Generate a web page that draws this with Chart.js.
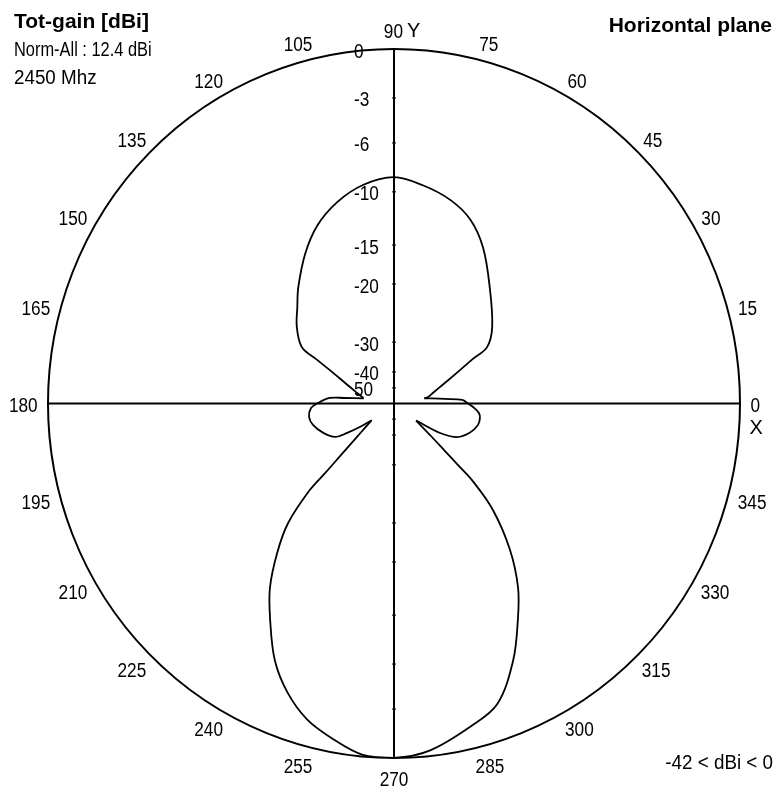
<!DOCTYPE html>
<html>
<head>
<meta charset="utf-8">
<script src="https://cdn.jsdelivr.net/npm/chart.js@4.4.0/dist/chart.umd.min.js"></script>
<style>
  html, body { margin: 0; padding: 0; background: #fff; }
  #wrap { width: 776px; height: 794px; }
</style>
</head>
<body>
<div id="wrap"><canvas id="polar" width="776" height="794"></canvas></div>
<script>
// azimuth in degrees (0 = X, counter-clockwise)
const angles = [0, 2.9, 5, 7.5, 9.5, 10.4, 15.7, 20.6, 25.7, 28.8, 30.6, 37.3, 49.9, 59.7, 67, 74.2, 82.3,
  90, 98.3, 106.2, 113.8, 121.2, 130.1, 135.8, 142.4, 149.1, 151, 153.6, 158.5, 163.6, 168.8, 170.5, 173.7, 175.2,
  180, 183, 188.8, 194.5, 202.1, 209, 211.5, 214, 216.2, 219, 221.5, 223.5, 224.6, 225.1, 227.8, 231.3, 235.4,
  239.6, 244.6, 249.3, 254.3, 259.5, 264.8, 270, 276.1, 283.6, 289.4, 295.4, 300.4, 304.6, 309.1, 313.6, 316.2,
  316.8, 317.7, 319.3, 323, 328, 332.6, 339.3, 346, 350.6, 353.8, 357.5, 360];
// normalised total gain, dB
const gain = [-27.5, -28.5, -33, -37.5, -40, -38.7, -36.3, -32.7, -28.1, -24.8, -21.5, -19.1, -15.8, -12.9, -11.1, -10.0, -9.3,
  -8.8, -9.25, -10.2, -11.6, -13.4, -15.8, -17.6, -19.2, -21.6, -25.0, -28.4, -33.2, -37.0, -39.4, -40, -33.7, -29.2,
  -27, -25.9, -25.4, -25.8, -27.1, -28.7, -31.7, -36.6, -42, -38, -33.4, -27.7, -23.6, -19.6, -14.7, -11.9, -9.0,
  -6.8, -4.4, -2.8, -1.6, -0.8, -0.1, 0, -0.35, -1.35, -2.2, -4.4, -6.8, -9.0, -12.2, -16.5, -21.5,
  -25.0, -28.4, -33.6, -42, -31.9, -28.0, -26.3, -25.3, -25.2, -25.5, -26.6, -27.5];
// the four nulls split the trace into lobes
const nullAngles = [9.5, 170.5, 216.2, 323];

const angleLabels = [0, 15, 30, 45, 60, 75, 90, 105, 120, 135, 150, 165, 180, 195, 210, 225, 240, 255, 270, 285, 300, 315, 330, 345];
const radialTicks = [0, -3, -6, -10, -15, -20, -30, -40, -50];
const radialLabels = ["0", "-3", "-6", "-10", "-15", "-20", "-30", "-40", "50"];
// radial scale of the plot: fraction of the outer ring for each tick
const radialStops = [1, 0.862, 0.735, 0.597, 0.447, 0.337, 0.173, 0.089, 0.044];

const FONT = '"Liberation Sans", Arial, sans-serif';
const SQUEEZE = 0.86;

function toRadius(db) {
  if (db >= radialTicks[0]) return 1;
  for (let i = 1; i < radialTicks.length; i++) {
    if (db >= radialTicks[i]) {
      const t = (radialTicks[i - 1] - db) / (radialTicks[i - 1] - radialTicks[i]);
      return radialStops[i - 1] + t * (radialStops[i] - radialStops[i - 1]);
    }
  }
  return radialStops[radialStops.length - 1];
}

const points = angles.map((a, i) => {
  const r = toRadius(gain[i]);
  const t = a * Math.PI / 180;
  return { x: r * Math.cos(t), y: r * Math.sin(t) };
});

// one dataset per lobe so the smoothing keeps the nulls sharp
const cuts = nullAngles.map(a => angles.indexOf(a));
const lobes = [
  points.slice(cuts[0], cuts[1] + 1),
  points.slice(cuts[1], cuts[2] + 1),
  points.slice(cuts[2], cuts[3] + 1),
  points.slice(cuts[3]).concat(points.slice(1, cuts[0] + 1))
];

function squeezed(ctx, txt, x, y, align, sx) {
  ctx.save();
  ctx.translate(x, y);
  ctx.scale(sx, 1);
  ctx.textAlign = align;
  ctx.fillText(txt, 0, 0);
  ctx.restore();
}

const polarFrame = {
  id: "polarFrame",
  beforeDatasetsDraw(chart) {
    const { ctx, scales: { x, y } } = chart;
    const cx = x.getPixelForValue(0), cy = y.getPixelForValue(0);
    const rx = x.getPixelForValue(1) - cx, ry = cy - y.getPixelForValue(1);
    ctx.save();
    ctx.strokeStyle = "#000";
    ctx.lineWidth = 2;
    ctx.beginPath();
    ctx.ellipse(cx, cy, rx, ry, 0, 0, Math.PI * 2);
    ctx.stroke();
    ctx.beginPath();
    ctx.moveTo(cx - rx, cy); ctx.lineTo(cx + rx, cy);
    ctx.moveTo(cx, cy - ry); ctx.lineTo(cx, cy + ry);
    ctx.stroke();
    // little tick marks on the axes
    ctx.lineWidth = 1;
    radialTicks.forEach(db => {
      const r = toRadius(db);
      ctx.beginPath();
      ctx.moveTo(cx - 2, cy - r * ry); ctx.lineTo(cx + 2, cy - r * ry);
      ctx.moveTo(cx - 2, cy + r * ry); ctx.lineTo(cx + 2, cy + r * ry);
      ctx.stroke();
    });
    ctx.restore();
  },
  afterDatasetsDraw(chart) {
    const { ctx, scales: { x, y } } = chart;
    const cx = x.getPixelForValue(0), cy = y.getPixelForValue(0);
    const rx = x.getPixelForValue(1) - cx, ry = cy - y.getPixelForValue(1);
    ctx.save();
    ctx.fillStyle = "#000";
    ctx.textBaseline = "middle";
    ctx.font = "20px " + FONT;

    angleLabels.forEach(a => {
      const t = a * Math.PI / 180;
      const ax = cx + Math.cos(t) * 1.03 * rx;
      const ay = cy - Math.sin(t) * 1.03 * ry;
      if (a === 90) {
        squeezed(ctx, "90", cx + 9, ay - 9 + 3, "right", SQUEEZE);
        squeezed(ctx, "Y", cx + 13, ay - 9 + 2, "left", 1);
        return;
      }
      const txt = String(a);
      const w = ctx.measureText(txt).width * SQUEEZE;
      const lx = ax + Math.cos(t) * w / 2;
      squeezed(ctx, txt, lx, ay - Math.sin(t) * 9 + 3, "center", SQUEEZE);
      if (a === 0) squeezed(ctx, "X", lx + 1, cy + 25, "center", 1);
    });

    radialTicks.forEach((db, i) => {
      const r = toRadius(db);
      squeezed(ctx, radialLabels[i], cx - 40, cy - r * ry + 3, "left", SQUEEZE);
    });

    ctx.textBaseline = "alphabetic";
    ctx.font = "bold 21px " + FONT;
    squeezed(ctx, "Tot-gain [dBi]", 14, 28, "left", 1);
    squeezed(ctx, "Horizontal plane", 772, 32, "right", 1);
    ctx.font = "20px " + FONT;
    squeezed(ctx, "Norm-All : 12.4 dBi", 14, 56, "left", 0.82);
    squeezed(ctx, "2450 Mhz", 14, 84, "left", 0.94);
    squeezed(ctx, "-42 < dBi < 0", 773, 769, "right", 0.94);
    ctx.restore();
  }
};

new Chart(document.getElementById("polar"), {
  type: "scatter",
  data: {
    datasets: lobes.map((pts, i) => ({
      label: "Tot-gain " + (i + 1),
      data: pts,
      showLine: true,
      borderColor: "#000",
      borderWidth: 1.8,
      pointRadius: 0,
      tension: 0.35,
      fill: false
    }))
  },
  options: {
    responsive: false,
    animation: false,
    devicePixelRatio: 1,
    layout: { padding: { left: 48, right: 36, top: 49, bottom: 36 } },
    plugins: { legend: { display: false }, tooltip: { enabled: false } },
    scales: {
      x: { type: "linear", min: -1, max: 1, display: false },
      y: { type: "linear", min: -1, max: 1, display: false }
    }
  },
  plugins: [polarFrame]
});
</script>
</body>
</html>
